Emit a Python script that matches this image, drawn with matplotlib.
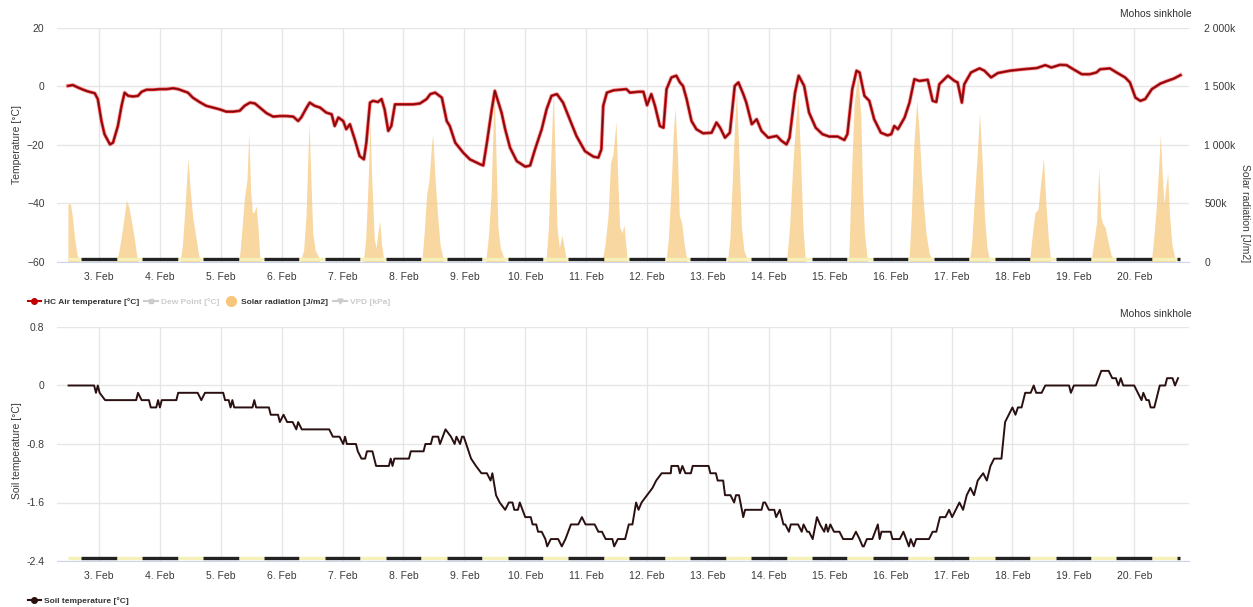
import matplotlib
matplotlib.use('Agg')
import matplotlib.pyplot as plt
from matplotlib.lines import Line2D
from matplotlib.ticker import FixedLocator, FuncFormatter

plt.rcParams['font.family'] = ['Liberation Sans', 'DejaVu Sans']

# time axis: decimal day of February (2.5 = 2 Feb 12:00)
air_t = [2.49, 2.57, 2.65, 2.74, 2.82, 2.93, 2.98, 3.04, 3.09, 3.18, 3.23, 3.31, 3.37, 3.42,
         3.48, 3.56, 3.64, 3.70, 3.78, 3.89, 4.00, 4.11, 4.22, 4.30, 4.38, 4.46, 4.54, 4.65,
         4.76, 4.87, 4.98, 5.09, 5.20, 5.31, 5.39, 5.48, 5.56, 5.64, 5.75, 5.86, 5.97, 6.08,
         6.19, 6.27, 6.32, 6.41, 6.46, 6.54, 6.63, 6.73, 6.82, 6.87, 6.93, 7.01, 7.06, 7.12,
         7.20, 7.28, 7.35, 7.39, 7.45, 7.50, 7.58, 7.64, 7.69, 7.75, 7.80, 7.86, 7.99, 8.16,
         8.27, 8.38, 8.44, 8.52, 8.63, 8.71, 8.76, 8.85, 8.98, 9.09, 9.26, 9.31, 9.37, 9.45,
         9.50, 9.56, 9.61, 9.67, 9.75, 9.86, 10.00, 10.08, 10.16, 10.27, 10.35, 10.43, 10.52,
         10.62, 10.73, 10.84, 10.98, 11.12, 11.20, 11.25, 11.28, 11.34, 11.45, 11.55, 11.66,
         11.72, 11.86, 11.94, 12.00, 12.07, 12.13, 12.21, 12.27, 12.32, 12.40, 12.48, 12.54,
         12.59, 12.65, 12.73, 12.81, 12.92, 13.06, 13.14, 13.20, 13.28, 13.36, 13.44, 13.50,
         13.58, 13.63, 13.72, 13.80, 13.88, 13.99, 14.13, 14.21, 14.29, 14.34, 14.43, 14.49,
         14.58, 14.66, 14.77, 14.88, 14.99, 15.13, 15.24, 15.29, 15.37, 15.44, 15.49, 15.57,
         15.65, 15.73, 15.84, 15.95, 16.01, 16.06, 16.12, 16.23, 16.31, 16.39, 16.47, 16.61,
         16.69, 16.75, 16.80, 16.94, 17.05, 17.10, 17.17, 17.21, 17.32, 17.46, 17.54, 17.65,
         17.76, 17.96, 18.18, 18.40, 18.54, 18.64, 18.78, 18.89, 19.00, 19.14, 19.27, 19.38,
         19.44, 19.60, 19.71, 19.85, 19.93, 20.02, 20.10, 20.18, 20.29, 20.43, 20.54, 20.65,
         20.76]
air_v = [0.2, 0.5, -0.3, -1.1, -1.7, -2.3, -4.3, -11.8, -16.3, -19.8, -19.2, -13.5, -6.6, -2.1,
         -3.2, -3.4, -3.2, -1.8, -1.1, -1.1, -0.9, -0.9, -0.6, -0.9, -1.5, -2.1, -3.8, -5.3,
         -6.6, -7.2, -7.8, -8.6, -8.6, -8.3, -6.6, -5.5, -5.8, -7.2, -9.1, -10.3, -10.1, -10.1,
         -10.3, -11.8, -10.6, -7.2, -5.5, -6.6, -7.2, -8.9, -9.5, -13.5, -10.6, -11.8, -14.6, -12.9,
         -18.1, -23.8, -24.9, -19.2, -5.5, -4.9, -5.3, -4.3, -7.8, -15.2, -13.5, -6.1, -6.1, -6.1,
         -5.8, -4.3, -2.6, -2.1, -3.8, -11.8, -13.5, -19.2, -22.6, -24.9, -26.6, -27.0, -19.2, -7.8,
         -1.5, -5.5, -8.9, -14.6, -20.9, -25.5, -27.4, -27.0, -21.5, -14.6, -7.8, -3.2, -2.6,
         -5.5, -11.2, -16.9, -22.1, -24.0, -24.3, -21.5, -6.6, -2.1, -1.3, -1.1, -0.9,
         -2.1, -1.8, -1.8, -6.4, -2.6, -6.6, -13.5, -14.1, -0.9, 3.1, 3.7, 1.4,
         0.2, -4.3, -11.8, -14.6, -16.0, -15.8, -12.3, -14.1, -17.5, -15.8, 0.2, 1.4,
         -2.6, -5.5, -12.9, -11.2, -15.2, -17.5, -16.9, -18.6, -19.8, -17.5, -2.1, 3.7,
         0.2, -8.9, -14.1, -16.3, -17.1, -17.1, -18.3, -16.3, -0.9, 5.4, 4.8, -3.2,
         -4.9, -11.2, -15.8, -16.7, -16.3, -13.5, -14.6, -10.6, -5.5, 2.5, 1.9, 2.3,
         -4.9, -5.3, 0.8, 3.7, 1.9, 1.4, -5.5, 0.8, 4.8, 6.2, 5.4, 3.1,
         4.6, 5.4, 5.9, 6.3, 7.3, 6.5, 7.4, 7.3, 5.9, 4.2, 4.2, 4.8,
         5.9, 6.2, 4.8, 3.1, 1.4, -3.8, -4.9, -4.3, -0.9, 1.0, 1.9, 2.7,
         3.9]

# solar radiation, thousands of J/m2
solar_t = [2.49, 2.53, 2.56, 2.60, 2.64, 2.68,
           3.28, 3.33, 3.39, 3.45, 3.49, 3.53, 3.58, 3.62, 3.65,
           4.33, 4.37, 4.41, 4.46, 4.50, 4.54, 4.58, 4.63, 4.66,
           5.30, 5.35, 5.39, 5.43, 5.46, 5.49, 5.52, 5.55, 5.58, 5.61, 5.64, 5.66,
           6.30, 6.36, 6.40, 6.43, 6.45, 6.48, 6.51, 6.55, 6.60, 6.63,
           7.34, 7.38, 7.42, 7.45, 7.48, 7.52, 7.55, 7.58, 7.61, 7.64, 7.68,
           8.30, 8.34, 8.38, 8.42, 8.46, 8.48, 8.52, 8.56, 8.60, 8.66,
           9.35, 9.40, 9.44, 9.47, 9.49, 9.52, 9.55, 9.59, 9.63, 9.67,
           10.34, 10.38, 10.42, 10.46, 10.49, 10.52, 10.56, 10.60, 10.63, 10.68,
           11.26, 11.31, 11.36, 11.40, 11.44, 11.49, 11.52, 11.55, 11.59, 11.62, 11.65, 11.68,
           12.31, 12.35, 12.40, 12.43, 12.46, 12.50, 12.53, 12.57, 12.61, 12.66,
           13.32, 13.36, 13.40, 13.44, 13.47, 13.51, 13.55, 13.59, 13.66,
           14.29, 14.34, 14.39, 14.44, 14.48, 14.52, 14.56, 14.60,
           15.31, 15.35, 15.40, 15.46, 15.51, 15.54, 15.57, 15.62,
           16.30, 16.34, 16.38, 16.43, 16.47, 16.50, 16.54, 16.58, 16.63, 16.69,
           17.29, 17.33, 17.37, 17.42, 17.46, 17.50, 17.54, 17.58, 17.63,
           18.28, 18.33, 18.37, 18.42, 18.47, 18.51, 18.55, 18.59, 18.63,
           19.29, 19.33, 19.38, 19.42, 19.45, 19.48, 19.52, 19.56, 19.62, 19.69,
           20.28, 20.32, 20.36, 20.40, 20.43, 20.46, 20.49, 20.52, 20.55, 20.58, 20.62, 20.68]
solar_v = [490, 500, 400, 200, 60, 0,
           0, 100, 300, 530, 470, 360, 200, 50, 0,
           0, 150, 450, 890, 600, 380, 250, 80, 0,
           0, 300, 560, 700, 1110, 600, 420, 430, 480, 300, 50, 0,
           0, 100, 400, 900, 1190, 700, 250, 100, 50, 0,
           0, 200, 700, 1200, 700, 200, 120, 250, 350, 150, 0,
           0, 250, 575, 700, 1000, 1090, 700, 400, 150, 0,
           0, 250, 600, 1150, 1480, 900, 300, 120, 60, 0,
           0, 300, 900, 1480, 900, 300, 120, 230, 150, 0,
           0, 150, 400, 850, 920, 1200, 700, 300, 250, 320, 150, 0,
           0, 200, 700, 1100, 1320, 900, 400, 330, 150, 0,
           0, 200, 700, 1200, 1450, 900, 300, 100, 0,
           0, 300, 800, 1200, 1420, 900, 300, 0,
           0, 650, 1350, 1600, 1250, 600, 250, 0,
           0, 400, 1000, 1380, 1100, 800, 500, 250, 80, 0,
           0, 150, 500, 900, 1270, 900, 400, 130, 0,
           0, 250, 420, 450, 700, 890, 500, 200, 0,
           0, 150, 330, 810, 400, 330, 300, 200, 60, 0,
           0, 200, 450, 800, 1090, 750, 500, 650, 760, 400, 150, 0]

soil_t = [2.50, 2.92, 2.95, 2.98, 3.01, 3.10, 3.61, 3.64, 3.70, 3.82, 3.85, 3.94, 3.97, 4.00,
          4.03, 4.27, 4.30, 4.62, 4.68, 4.74, 5.04, 5.07, 5.13, 5.16, 5.19, 5.22, 5.52, 5.55,
          5.58, 5.79, 5.82, 5.94, 5.97, 6.03, 6.09, 6.18, 6.24, 6.27, 6.33, 6.78, 6.84, 6.95,
          7.01, 7.04, 7.07, 7.13, 7.22, 7.25, 7.31, 7.37, 7.40, 7.49, 7.55, 7.76, 7.79, 7.82,
          7.85, 8.09, 8.12, 8.33, 8.36, 8.45, 8.48, 8.57, 8.60, 8.69, 8.78, 8.84, 8.87, 8.93,
          8.96, 8.99, 9.11, 9.19, 9.28, 9.37, 9.43, 9.46, 9.52, 9.58, 9.67, 9.73, 9.79, 9.82,
          9.88, 9.91, 10.00, 10.09, 10.12, 10.18, 10.21, 10.27, 10.33, 10.36, 10.42, 10.54,
          10.60, 10.66, 10.75, 10.87, 10.93, 10.99, 11.14, 11.20, 11.26, 11.32, 11.43, 11.46,
          11.52, 11.64, 11.70, 11.76, 11.82, 11.86, 11.91, 12.00, 12.09, 12.15, 12.24, 12.39,
          12.40, 12.51, 12.54, 12.58, 12.63, 12.72, 12.75, 13.01, 13.04, 13.13, 13.16, 13.25,
          13.28, 13.37, 13.43, 13.46, 13.51, 13.58, 13.61, 13.88, 13.91, 13.94, 14.00, 14.09,
          14.12, 14.18, 14.24, 14.27, 14.33, 14.36, 14.48, 14.54, 14.57, 14.63, 14.66, 14.72,
          14.79, 14.84, 14.91, 14.94, 14.97, 15.01, 15.07, 15.16, 15.22, 15.37, 15.43, 15.49,
          15.54, 15.56, 15.61, 15.70, 15.79, 15.82, 15.85, 16.00, 16.03, 16.15, 16.21, 16.30,
          16.33, 16.38, 16.42, 16.63, 16.69, 16.75, 16.81, 16.90, 16.96, 17.01, 17.07, 17.13,
          17.19, 17.25, 17.31, 17.37, 17.43, 17.52, 17.58, 17.64, 17.70, 17.82, 17.88, 17.94,
          18.00, 18.05, 18.09, 18.15, 18.21, 18.30, 18.35, 18.39, 18.48, 18.54, 18.93, 18.96,
          19.01, 19.37, 19.46, 19.58, 19.64, 19.70, 19.74, 19.78, 19.82, 20.00, 20.06, 20.12,
          20.15, 20.20, 20.24, 20.27, 20.33, 20.39, 20.42, 20.51, 20.54, 20.63, 20.67, 20.72]
soil_v = [0.0, 0.0, -0.1, 0.0, -0.1, -0.2, -0.2, -0.1, -0.2, -0.2, -0.3, -0.3, -0.2, -0.3,
          -0.2, -0.2, -0.1, -0.1, -0.2, -0.1, -0.1, -0.2, -0.2, -0.3, -0.2, -0.3, -0.3, -0.2,
          -0.3, -0.3, -0.4, -0.4, -0.5, -0.4, -0.5, -0.5, -0.6, -0.5, -0.6, -0.6, -0.7, -0.7,
          -0.8, -0.7, -0.8, -0.8, -0.8, -0.9, -1.0, -1.0, -0.9, -0.9, -1.1, -1.1, -1.0, -1.1,
          -1.0, -1.0, -0.9, -0.9, -0.8, -0.8, -0.7, -0.7, -0.8, -0.6, -0.7, -0.8, -0.7, -0.8,
          -0.7, -0.7, -1.0, -1.1, -1.2, -1.2, -1.3, -1.2, -1.5, -1.6, -1.7, -1.6, -1.6, -1.7,
          -1.7, -1.6, -1.8, -1.8, -1.9, -1.9, -2.0, -2.0, -2.1, -2.2, -2.1, -2.1,
          -2.2, -2.1, -1.9, -1.9, -1.8, -1.9, -1.9, -2.0, -2.0, -2.1, -2.1, -2.2,
          -2.1, -2.1, -1.9, -1.9, -1.6, -1.7, -1.6, -1.5, -1.4, -1.3, -1.2, -1.2,
          -1.1, -1.1, -1.2, -1.1, -1.2, -1.2, -1.1, -1.1, -1.2, -1.2, -1.3, -1.3,
          -1.5, -1.5, -1.6, -1.5, -1.5, -1.8, -1.7, -1.7, -1.6, -1.6, -1.7, -1.7,
          -1.8, -1.7, -1.9, -1.9, -2.0, -1.9, -1.9, -2.0, -1.9, -2.0, -2.0, -2.1,
          -1.8, -1.9, -2.0, -1.9, -2.0, -1.9, -2.0, -2.0, -2.1, -2.1, -2.0, -2.1,
          -2.2, -2.2, -2.1, -2.1, -1.9, -2.1, -2.0, -2.0, -2.1, -2.1, -2.0, -2.2,
          -2.1, -2.2, -2.1, -2.1, -2.0, -2.0, -1.8, -1.8, -1.7, -1.8, -1.7, -1.6,
          -1.7, -1.5, -1.4, -1.5, -1.3, -1.2, -1.3, -1.1, -1.0, -1.0, -0.5, -0.4,
          -0.3, -0.4, -0.3, -0.3, -0.1, -0.1, 0.0, -0.1, -0.1, 0.0, 0.0, -0.1,
          0.0, 0.0, 0.2, 0.2, 0.1, 0.1, 0.0, 0.1, 0.0, 0.0, -0.1, -0.2,
          -0.1, -0.2, -0.2, -0.3, -0.3, -0.1, 0.0, 0.0, 0.1, 0.1, 0.0, 0.1]

day_ticks = list(range(3, 21))
day_labels = [f'{d}. Feb' for d in day_ticks]
temp_ticks = [-60, -40, -20, 0, 20]
solar_ticks = [0, 500, 1000, 1500, 2000]
soil_ticks = [-2.4, -1.6, -0.8, 0, 0.8]
sunrise, sunset = 7 / 24, 17 / 24

W, H = 1253, 607
GRID = '#e6e6e6'
AXLINE = '#ccd6eb'
TXT = '#3a3a3a'
x0, x1 = 57, 1189


def style_x(ax):
    ax.set_xlim(2.31, 20.90)
    ax.xaxis.set_major_locator(FixedLocator(day_ticks))
    ax.set_xticklabels(day_labels)
    ax.tick_params(axis='x', length=0, pad=7, labelsize=7.5, labelcolor=TXT)
    ax.tick_params(axis='y', length=0, labelsize=7.5, labelcolor=TXT)
    for s in ax.spines.values():
        s.set_visible(False)
    ax.spines['bottom'].set_visible(True)
    ax.spines['bottom'].set_color(AXLINE)


def day_night(ax):
    lo, hi = min(air_t), max(air_t)
    tr = ax.get_xaxis_transform()
    for d in range(2, 21):
        for a, b, c in [(d + sunrise, d + sunset, '#f6f1b8'),
                        (d + sunset, d + 1 + sunrise, '#222222')]:
            a, b = max(a, lo), min(b, hi)
            if b - a > 0.02:
                ax.plot([a, b], [0.012, 0.012], color=c, lw=2.4,
                        solid_capstyle='butt', transform=tr, zorder=4)


fig = plt.figure(figsize=(W / 100, H / 100), dpi=100)

# --- top chart ---
ax = fig.add_axes([x0 / W, 1 - 262 / H, (x1 - x0) / W, 234 / H])
ax2 = ax.twinx()
ax.set_zorder(2)
ax2.set_zorder(1)
ax.patch.set_visible(False)

ax2.fill_between(solar_t, solar_v, 0, color='#f7c67a', alpha=0.7, lw=0)
ax2.set_ylim(0, 2000)
ax2.yaxis.set_major_locator(FixedLocator(solar_ticks))
ax2.yaxis.set_major_formatter(FuncFormatter(
    lambda v, p: '0' if v == 0 else f'{int(v):,}k'.replace(',', ' ')))
ax2.xaxis.set_visible(True)
ax2.set_axisbelow(True)
ax2.grid(True, color=GRID, lw=1)
ax2.tick_params(axis='x', labelbottom=False, length=0)
ax2.tick_params(axis='y', length=0, labelsize=7.5, labelcolor=TXT, pad=11)
for s in ax2.spines.values():
    s.set_visible(False)
ax2.set_ylabel('Solar radiation [J/m2]', rotation=270, fontsize=7.5, color=TXT, va='center')
ax2.yaxis.set_label_coords(1.0495, 0.21)

ax.plot(air_t, air_v, color='#f4a0a0', lw=3.2, alpha=0.45, solid_joinstyle='round')
ax.plot(air_t, air_v, color='#cf1a1f', lw=2.0, solid_joinstyle='round')
ax.plot(air_t, air_v, color='#6a0808', lw=0.7, solid_joinstyle='round')
ax.set_ylim(-60, 20)
ax.yaxis.set_major_locator(FixedLocator(temp_ticks))
style_x(ax)
ax.tick_params(axis='y', pad=9)
ax.set_ylabel('Temperature [°C]', fontsize=7.5, color=TXT, va='center')
ax.yaxis.set_label_coords(-0.035, 0.5)
day_night(ax)

fig.text(1192 / W, 1 - 14 / H, 'Mohos sinkhole', ha='right', va='center',
         fontsize=7.4, color='#333333')

handles = [
    Line2D([], [], color='#c00000', lw=1.5, marker='o', markersize=4),
    Line2D([], [], color='#cccccc', lw=1.5, marker='s', markersize=3.5),
    Line2D([], [], color='#f7c67a', lw=0, marker='o', markersize=7),
    Line2D([], [], color='#cccccc', lw=1.5, marker='v', markersize=3.5),
]
names = ['HC Air temperature [°C]', 'Dew Point [°C]', 'Solar radiation [J/m2]', 'VPD [kPa]']
leg = fig.legend(handles, names, loc='center left', bbox_to_anchor=(0.016, 1 - 302 / H),
                 ncol=4, frameon=False, handlelength=1.6, handletextpad=0.4,
                 columnspacing=0.6, prop={'size': 6, 'weight': 'bold'})
for t, c in zip(leg.get_texts(), ['#333333', '#cccccc', '#333333', '#cccccc']):
    t.set_color(c)

# --- bottom chart ---
bx = fig.add_axes([x0 / W, 1 - 561 / H, (x1 - x0) / W, 234 / H])
bx.plot(soil_t, soil_v, color='#2a1010', lw=1.4)
bx.set_ylim(-2.4, 0.8)
bx.yaxis.set_major_locator(FixedLocator(soil_ticks))
bx.yaxis.set_major_formatter(FuncFormatter(lambda v, p: '0' if abs(v) < 1e-9 else f'{v:.1f}'))
bx.set_axisbelow(True)
bx.grid(True, color=GRID, lw=1)
style_x(bx)
bx.tick_params(axis='y', pad=9)
bx.set_ylabel('Soil temperature [°C]', fontsize=7.5, color=TXT, va='center')
bx.yaxis.set_label_coords(-0.035, 0.47)
day_night(bx)

fig.text(1192 / W, 1 - 314 / H, 'Mohos sinkhole', ha='right', va='center',
         fontsize=7.4, color='#333333')

leg2 = fig.legend([Line2D([], [], color='#2a1010', lw=1.5, marker='o', markersize=4)],
                  ['Soil temperature [°C]'], loc='center left',
                  bbox_to_anchor=(0.016, 1 - 601 / H), frameon=False, handlelength=1.6,
                  handletextpad=0.4, prop={'size': 6, 'weight': 'bold'})
leg2.get_texts()[0].set_color('#333333')

fig.savefig('out.png', dpi=100, facecolor='white')
